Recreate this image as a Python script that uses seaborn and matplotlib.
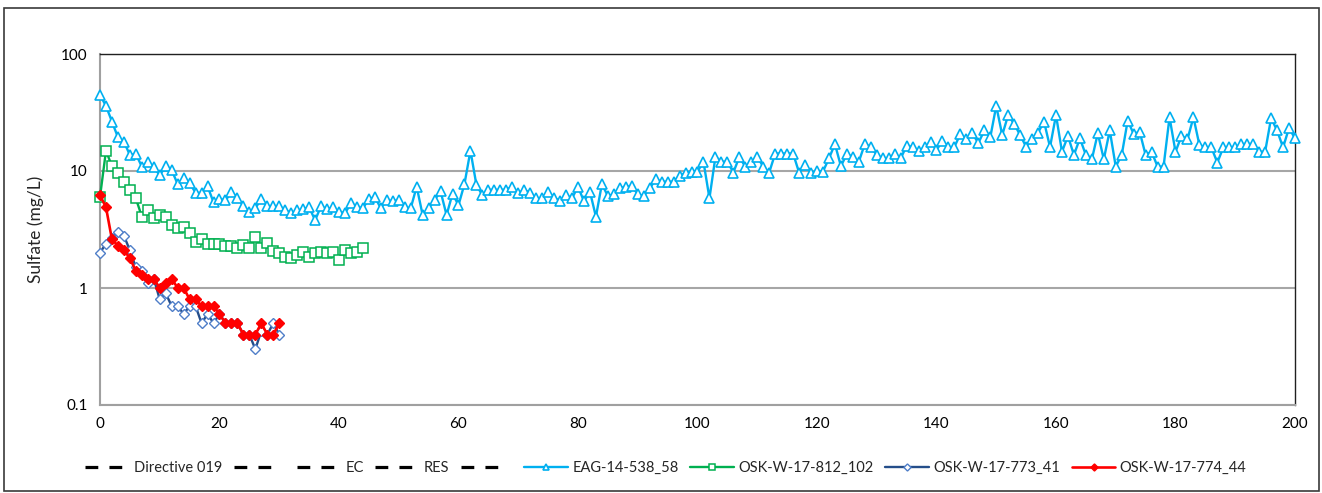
import numpy as np
import pandas as pd
import matplotlib
matplotlib.use("Agg")
import matplotlib.pyplot as plt
from matplotlib.lines import Line2D
from matplotlib.patches import Rectangle
import seaborn as sns

# Sulfate concentrations (mg/L) by sample index
eag_days = list(range(0, 201))
eag_sulfate = [
    44.6, 36, 26.4, 19.4, 17.8, 13.7, 14, 10.9, 12, 10.8,
    9.2, 11, 10.2, 7.7, 8.7, 7.9, 6.5, 6.5, 7.4, 5.4,
    5.8, 5.6, 6.6, 5.9, 5.0, 4.5, 4.8, 5.8, 5.0, 5.0,
    5.0, 4.65, 4.35, 4.6, 4.7, 4.9, 3.8, 5.0, 4.7, 4.9,
    4.5, 4.35, 5.3, 4.95, 4.8, 5.76, 6.0, 4.8, 5.65, 5.5,
    5.65, 4.9, 4.8, 7.35, 4.2, 4.8, 5.65, 6.7, 4.2, 6.4,
    5.1, 7.75, 14.9, 7.6, 6.2, 6.9, 6.9, 6.9, 6.9, 7.35,
    6.45, 6.9, 6.5, 5.85, 5.85, 6.6, 5.9, 5.57, 6.2, 5.85,
    7.35, 5.5, 6.65, 4.07, 7.75, 6.1, 6.35, 7.1, 7.35, 7.4,
    6.35, 6.1, 7.1, 8.5, 8.1, 8.1, 8.1, 9.1, 9.6, 9.9,
    9.9, 12.0, 5.85, 13.2, 12.0, 12.0, 9.7, 13.2, 10.9, 12.0,
    13.2, 10.9, 9.7, 14.1, 14.1, 14.1, 14.1, 9.7, 11.3, 9.6,
    10, 9.9, 12.8, 17.0, 11.0, 14.0, 13.1, 12.0, 17.0, 16.1,
    13.7, 12.8, 12.8, 14.0, 12.8, 16.4, 16.1, 14.9, 15.9, 17.8,
    15.1, 18.1, 15.9, 16.1, 20.7, 18.7, 21.0, 17.3, 22.2, 19.4,
    36.0, 20.3, 30.1, 25.2, 20.3, 16.1, 18.7, 21.3, 26.4, 16.0,
    30.1, 14.6, 19.9, 13.7, 19.0, 13.7, 12.6, 21.0, 12.6, 22.2,
    10.9, 13.7, 27.0, 20.7, 21.7, 13.7, 14.6, 10.9, 10.9, 28.8,
    14.6, 19.9, 18.6, 28.8, 16.7, 15.9, 15.9, 11.8, 15.9, 15.9,
    15.9, 17.0, 17.0, 17.0, 14.6, 14.6, 28.3, 22.2, 15.9, 23.3,
    19.0,
]

osk812_days = list(range(0, 45))
osk812_sulfate = [
    6.0, 14.9, 11.0, 9.6, 8.1, 6.9, 5.85, 4.07, 4.65, 4.0,
    4.2, 4.07, 3.45, 3.23, 3.35, 2.93, 2.46, 2.6, 2.4, 2.4,
    2.4, 2.29, 2.29, 2.18, 2.33, 2.18, 2.75, 2.2, 2.43, 2.08,
    1.98, 1.83, 1.79, 1.91, 2.04, 1.83, 2.0, 2.04, 1.98, 2.04,
    1.74, 2.11, 2.0, 2.04, 2.18,
]

osk773_days = list(range(0, 31))
osk773_sulfate = [
    2.0, 2.4, 2.7, 3.0, 2.8, 2.1, 1.5, 1.4, 1.1, 1.2,
    0.8, 0.9, 0.7, 0.7, 0.6, 0.7, 0.7, 0.5, 0.6, 0.5,
    0.6, 0.5, 0.5, 0.5, 0.4, 0.4, 0.3, 0.43, 0.4, 0.5,
    0.4,
]

osk774_days = list(range(0, 31))
osk774_sulfate = [
    6.2, 4.9, 2.6, 2.3, 2.1, 1.8, 1.4, 1.3, 1.2, 1.2,
    1.0, 1.1, 1.2, 1.0, 1.0, 0.8, 0.8, 0.7, 0.7, 0.7,
    0.6, 0.5, 0.5, 0.5, 0.4, 0.4, 0.4, 0.5, 0.4, 0.4,
    0.5,
]

guideline_names = ["Directive 019", " ", "EC", "RES", " "]
series_names = ["EAG-14-538_58", "OSK-W-17-812_102", "OSK-W-17-773_41", "OSK-W-17-774_44"]
x_ticks = list(range(0, 201, 20))
y_ticks = [0.1, 1, 10, 100]
y_tick_labels = ["0.1", "1", "10", "100"]

sns.set_theme(style="white")
plt.rcParams["font.family"] = ["Lato", "DejaVu Sans"]

fig = plt.figure(figsize=(13.22, 4.93), dpi=100)
ax = fig.add_axes([100 / 1322, 1 - 405 / 493, 1195 / 1322, 351 / 493])

styles = [
    dict(color="#00B0F0", marker="^", markerfacecolor="white", markeredgecolor="#00B0F0",
         markersize=6.5, markeredgewidth=1.2, linewidth=1.7),
    dict(color="#00B050", marker="s", markerfacecolor="white", markeredgecolor="#00B050",
         markersize=6.5, markeredgewidth=1.1, linewidth=1.7),
    dict(color="#254E8A", marker="D", markerfacecolor="white", markeredgecolor="#4F7EC8",
         markersize=4.8, markeredgewidth=1.0, linewidth=1.7),
    dict(color="#FF0000", marker="D", markerfacecolor="#FF0000", markeredgecolor="#FF0000",
         markersize=4.8, markeredgewidth=1.0, linewidth=1.9),
]
all_series = [
    (eag_days, eag_sulfate),
    (osk812_days, osk812_sulfate),
    (osk773_days, osk773_sulfate),
    (osk774_days, osk774_sulfate),
]

for (days, vals), name, st in zip(all_series, series_names, styles):
    df = pd.DataFrame({"day": days, "sulfate": vals})
    sns.lineplot(data=df, x="day", y="sulfate", ax=ax, legend=False,
                 clip_on=False, zorder=3, **st)

ax.set_yscale("log")
ax.set_ylim(0.1, 100)
ax.set_xlim(0, 200)
ax.set_xticks(x_ticks)
ax.set_xticklabels([str(t) for t in x_ticks])
ax.set_yticks(y_ticks)
ax.set_yticklabels(y_tick_labels)
ax.yaxis.set_minor_locator(matplotlib.ticker.NullLocator())
ax.xaxis.set_minor_locator(matplotlib.ticker.NullLocator())

ax.grid(True, axis="y", which="major", color="#A6A6A6", linewidth=1.5)
ax.grid(False, axis="x")
ax.set_axisbelow(True)

for side in ("left", "bottom"):
    ax.spines[side].set_color("#A0A0A0")
    ax.spines[side].set_linewidth(1.5)
for side in ("top", "right"):
    ax.spines[side].set_color("#202020")
    ax.spines[side].set_linewidth(1.0)

ax.tick_params(axis="both", which="major", labelsize=11, colors="black",
               length=4, width=1, direction="out", pad=5)
ax.tick_params(axis="both", color="#A0A0A0")

ax.set_xlabel("")
ax.set_ylabel("Sulfate (mg/L)", fontsize=12.5, labelpad=12)

# Legend: guideline entries (dashed) followed by the monitoring wells
handles = []
for _ in guideline_names:
    handles.append(Line2D([], [], color="black", linewidth=2.3, linestyle=(0, (4, 3.5))))
for st in styles:
    h = dict(st)
    h["markersize"] = st["markersize"] * 0.75
    handles.append(Line2D([], [], **h))
labels = guideline_names + series_names

fig.legend(handles, labels, loc="center", bbox_to_anchor=(666 / 1322, 1 - 468 / 493),
           ncol=len(labels), frameon=False, fontsize=10.5, numpoints=1,
           handlelength=3.0, handletextpad=0.3, columnspacing=0.8, borderaxespad=0)

# Outer chart border
fig.patches.append(Rectangle((4 / 1322, 1 - 491 / 493), 1315 / 1322, 483 / 493,
                             transform=fig.transFigure, fill=False,
                             edgecolor="#3A3A3A", linewidth=1.2))

fig.savefig("out.png", dpi=100, facecolor="white")
